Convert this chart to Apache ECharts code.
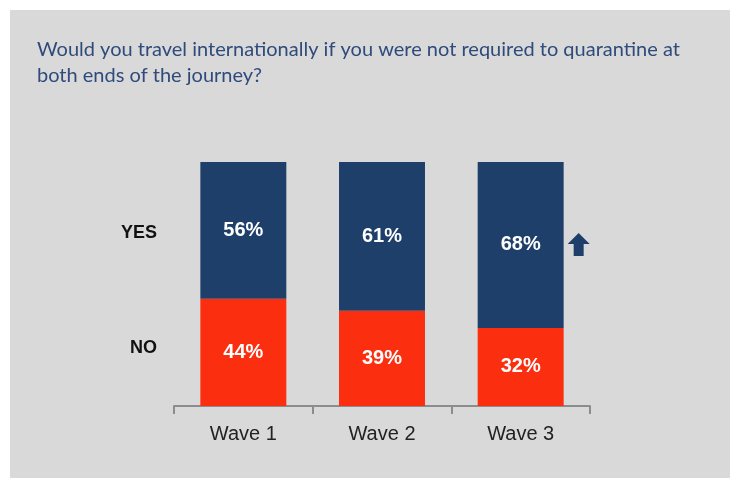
<!DOCTYPE html>
<html>
<head>
<meta charset="utf-8">
<script src="https://cdn.jsdelivr.net/npm/echarts@6/dist/echarts.min.js"></script>
<style>
  html, body { margin: 0; padding: 0; background: #ffffff; }
  #main { position: absolute; left: 10px; top: 10px; width: 720px; height: 468px; background: #d9d9d9; }
</style>
</head>
<body>
<div id="main"></div>
<script>
// chart data
const waves = ['Wave 1', 'Wave 2', 'Wave 3'];
const noValues = [44, 39, 32];
const yesValues = [56, 61, 68];
const answerLabels = ['YES', 'NO'];
const titleText = 'Would you travel internationally if you were not required to quarantine at\nboth ends of the journey?';

const navy = '#1e3f6a';
const red = '#fb2e10';

const chart = echarts.init(document.getElementById('main'));

const segLabel = {
  show: true,
  position: 'inside',
  color: '#ffffff',
  fontFamily: 'Liberation Sans',
  fontWeight: 'bold',
  fontSize: 20,
  formatter: (p) => p.value + '%'
};

const option = {
  animation: false,
  title: {
    text: titleText,
    left: 22,
    top: 22,
    textStyle: {
      color: '#2f4b7c',
      fontFamily: 'Lato',
      fontWeight: 'normal',
      fontSize: 20,
      lineHeight: 26
    }
  },
  grid: { left: 164, right: 140, top: 152, bottom: 72 },
  xAxis: {
    type: 'category',
    data: waves,
    axisLine: { lineStyle: { color: '#8c8c8c', width: 2 } },
    axisTick: { show: true, length: 8, lineStyle: { color: '#8c8c8c', width: 2 } },
    axisLabel: {
      color: '#222222',
      fontFamily: 'Liberation Sans',
      fontSize: 20,
      margin: 18
    }
  },
  yAxis: { type: 'value', min: 0, max: 100, show: false },
  series: [
    {
      name: 'NO',
      type: 'bar',
      stack: 'total',
      barCategoryGap: '38%',
      data: noValues,
      itemStyle: { color: red },
      label: segLabel
    },
    {
      name: 'YES',
      type: 'bar',
      stack: 'total',
      barCategoryGap: '38%',
      data: yesValues,
      itemStyle: { color: navy },
      label: segLabel
    }
  ]
};

chart.setOption(option);

// row labels beside the first bar and the up arrow beside the last one
const yesMid = chart.convertToPixel({ seriesIndex: 0 }, [0, noValues[0] + yesValues[0] / 2]);
const noMid = chart.convertToPixel({ seriesIndex: 0 }, [0, noValues[0] / 2]);
const lastYes = chart.convertToPixel({ seriesIndex: 0 }, [2, noValues[2] + yesValues[2] / 2]);

chart.setOption({
  graphic: [
    {
      type: 'text', x: 147, y: yesMid[1] + 3,
      style: { text: answerLabels[0], align: 'right', verticalAlign: 'middle',
        font: 'bold 18px "Liberation Sans"', fill: '#111111' }
    },
    {
      type: 'text', x: 147, y: noMid[1] - 4,
      style: { text: answerLabels[1], align: 'right', verticalAlign: 'middle',
        font: 'bold 18px "Liberation Sans"', fill: '#111111' }
    },
    {
      type: 'polygon',
      x: lastYes[0] + 58, y: lastYes[1],
      shape: { points: [[0, -12], [11, -1], [5, -1], [5, 11], [-5, 11], [-5, -1], [-11, -1]] },
      style: { fill: navy }
    }
  ]
});
</script>
</body>
</html>
